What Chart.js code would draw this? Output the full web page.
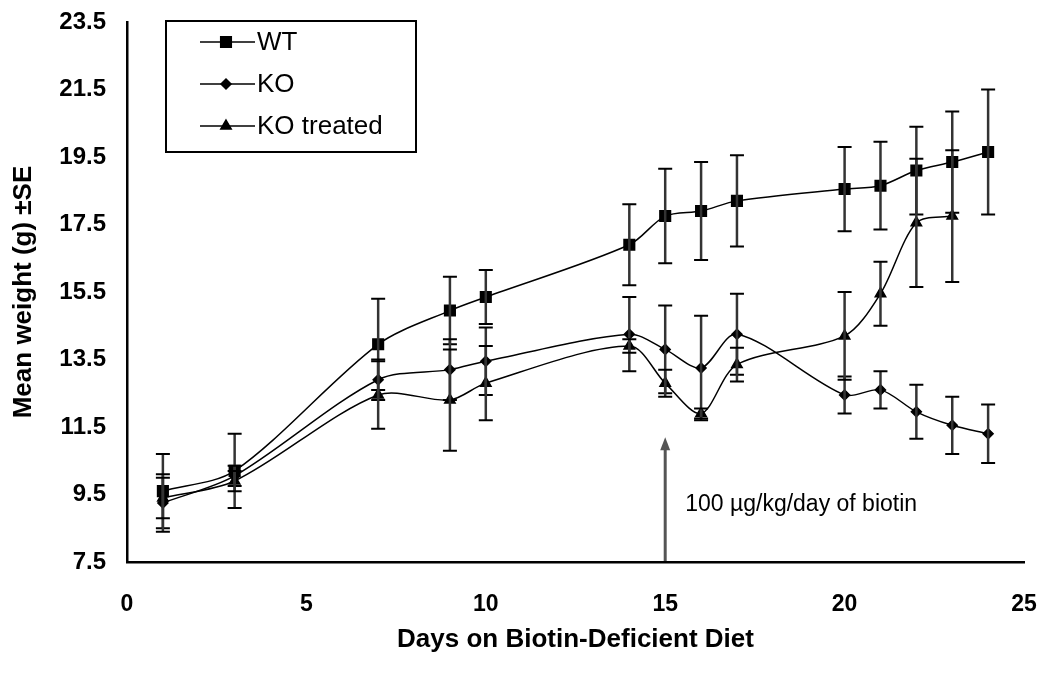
<!DOCTYPE html>
<html>
<head>
<meta charset="utf-8">
<script src="https://cdn.jsdelivr.net/npm/chart.js@4.4.1/dist/chart.umd.min.js"></script>
<style>
  html, body { margin: 0; padding: 0; background: #fff; }
  #wrap { width: 1050px; height: 675px; }
</style>
</head>
<body>
<div id="wrap"><canvas id="weight-chart" width="1050" height="675"></canvas></div>
<script>
// Data
const days = [1, 3, 7, 9, 10, 14, 15, 16, 17, 20, 21, 22, 23, 24];

const wtMean = [9.6, 10.2, 13.95, 14.95, 15.35, 16.9, 17.75, 17.9, 18.2, 18.55, 18.65, 19.1, 19.35, 19.65];
const wtSE   = [1.1, 1.1, 1.35, 1.0, 0.8, 1.2, 1.4, 1.45, 1.35, 1.25, 1.3, 1.3, 1.5, 1.85];

const koMean = [9.25, 10.05, 12.9, 13.2, 13.45, 14.25, 13.8, 13.25, 14.25, 12.45, 12.6, 11.95, 11.55, 11.3];
const koSE   = [0.85, 0.3, 0.6, 0.9, 1.0, 1.1, 1.3, 1.55, 1.2, 0.55, 0.55, 0.8, 0.85, 0.87];

const trtMean = [9.4, 9.9, 12.45, 12.3, 12.8, 13.9, 12.8, 11.9, 13.35, 14.2, 15.45, 17.55, 17.75, null];
const trtSE   = [0.6, 0.3, 1.0, 1.5, 1.1, 0.2, 0.4, 0.15, 0.5, 1.3, 0.95, 1.9, 1.95, null];

const yTicks = [7.5, 9.5, 11.5, 13.5, 15.5, 17.5, 19.5, 21.5, 23.5];
const xTicks = [0, 5, 10, 15, 20, 25];

const arrowDay = 15;
const arrowTop = 11.2;
const arrowText = "100 \u00b5g/kg/day of biotin";

function toPoints(means) {
  return days.map((d, i) => ({ x: d, y: means[i] })).filter(p => p.y !== null);
}

const ctx = document.getElementById("weight-chart");

// error bars drawn with the chart's own scales
const errorBars = {
  id: 'errorBars',
  afterDatasetsDraw(chart) {
    const c = chart.ctx;
    const yScale = chart.scales.y;
    chart.data.datasets.forEach((ds, di) => {
      const meta = chart.getDatasetMeta(di);
      meta.data.forEach((pt, i) => {
        const p = ds.data[i];
        const se = ds.se[i];
        const top = yScale.getPixelForValue(p.y + se);
        const bot = yScale.getPixelForValue(p.y - se);
        c.save();
        c.strokeStyle = '#333';
        c.lineWidth = 2.5;
        c.beginPath();
        c.moveTo(pt.x, top);
        c.lineTo(pt.x, bot);
        c.stroke();
        c.strokeStyle = '#000';
        c.lineWidth = 2;
        c.beginPath();
        c.moveTo(pt.x - 7, top); c.lineTo(pt.x + 7, top);
        c.moveTo(pt.x - 7, bot); c.lineTo(pt.x + 7, bot);
        c.stroke();
        c.restore();
      });
    });
  }
};

// arrow + note and boxed legend
const extras = {
  id: 'extras',
  afterDraw(chart) {
    const c = chart.ctx;
    const x = chart.scales.x.getPixelForValue(arrowDay);
    const y0 = chart.scales.y.getPixelForValue(chart.scales.y.min);
    const y1 = chart.scales.y.getPixelForValue(arrowTop);
    c.save();
    c.strokeStyle = '#555';
    c.fillStyle = '#555';
    c.lineWidth = 3;
    c.beginPath();
    c.moveTo(x, y0 - 1);
    c.lineTo(x, y1 + 10);
    c.stroke();
    c.beginPath();
    c.moveTo(x, y1);
    c.lineTo(x - 5, y1 + 13);
    c.lineTo(x + 5, y1 + 13);
    c.closePath();
    c.fill();

    c.fillStyle = '#000';
    c.font = '23px "Liberation Sans", Arial, sans-serif';
    c.textBaseline = 'middle';
    c.fillText(arrowText, x + 20, 505);

    // legend box
    c.strokeStyle = '#000';
    c.lineWidth = 2;
    c.strokeRect(166, 21, 250, 131);
    c.font = '26px "Liberation Sans", Arial, sans-serif';
    chart.data.datasets.forEach((ds, i) => {
      const ly = 42 + i * 42;
      c.strokeStyle = '#000';
      c.lineWidth = 1.5;
      c.beginPath();
      c.moveTo(200, ly);
      c.lineTo(255, ly);
      c.stroke();
      Chart.helpers.drawPoint(c, {
        pointStyle: ds.pointStyle,
        radius: ds.pointRadius,
        borderWidth: 1
      }, 226, ly);
      c.fillStyle = '#000';
      c.fill();
      c.fillText(ds.label, 257, ly + 1);
    });
    c.restore();
  }
};

const seriesStyle = {
  borderColor: '#000',
  backgroundColor: '#000',
  pointBackgroundColor: '#000',
  pointBorderColor: '#000',
  borderWidth: 1.5,
  tension: 0.3,
  showLine: true,
  fill: false
};

const weightChart = new Chart(ctx, {
  type: 'scatter',
  data: {
    datasets: [
      Object.assign({ label: 'WT', data: toPoints(wtMean), se: wtSE, pointStyle: 'rect', pointRadius: 7.5 }, seriesStyle),
      Object.assign({ label: 'KO', data: toPoints(koMean), se: koSE, pointStyle: 'rectRot', pointRadius: 5 }, seriesStyle),
      Object.assign({ label: 'KO treated', data: toPoints(trtMean), se: trtSE, pointStyle: 'triangle', pointRadius: 6 }, seriesStyle)
    ]
  },
  options: {
    responsive: false,
    animation: { duration: 0 },
    layout: { padding: { top: 22, right: 26, bottom: 20, left: 4 } },
    scales: {
      x: {
        type: 'linear',
        min: 0,
        max: 25,
        afterBuildTicks: scale => { scale.ticks = xTicks.map(v => ({ value: v })); },
        afterFit: scale => {
          scale.height = 93;
          scale.paddingLeft = 0;
          scale.paddingRight = 0;
        },
        grid: { display: false, drawOnChartArea: false, drawTicks: true, tickLength: 9, tickColor: '#000', tickWidth: 2 },
        border: { color: '#000', width: 2.5 },
        ticks: {
          color: '#000',
          padding: 20,
          font: { family: '"Liberation Sans", Arial, sans-serif', size: 23, weight: 'bold' }
        },
        title: {
          display: true,
          text: 'Days on Biotin-Deficient Diet',
          color: '#000',
          padding: { top: 6, bottom: 0 },
          font: { family: '"Liberation Sans", Arial, sans-serif', size: 26, weight: 'bold' }
        }
      },
      y: {
        type: 'linear',
        min: 7.5,
        max: 23.5,
        afterBuildTicks: scale => { scale.ticks = yTicks.map(v => ({ value: v })); },
        afterFit: scale => {
          scale.width = 123;
          scale.paddingTop = 0;
          scale.paddingBottom = 0;
        },
        grid: { display: false, drawOnChartArea: false, drawTicks: true, tickLength: 9, tickColor: '#000', tickWidth: 2 },
        border: { color: '#000', width: 2.5 },
        ticks: {
          color: '#000',
          padding: 12,
          callback: v => v.toFixed(1),
          font: { family: '"Liberation Sans", Arial, sans-serif', size: 24, weight: 'bold' }
        },
        title: {
          display: true,
          text: 'Mean weight (g) \u00b1SE',
          color: '#000',
          padding: { top: 4, bottom: 0 },
          font: { family: '"Liberation Sans", Arial, sans-serif', size: 26, weight: 'bold' }
        }
      }
    },
    plugins: {
      legend: { display: false },
      tooltip: { enabled: false }
    }
  },
  plugins: [errorBars, extras]
});
</script>
</body>
</html>
